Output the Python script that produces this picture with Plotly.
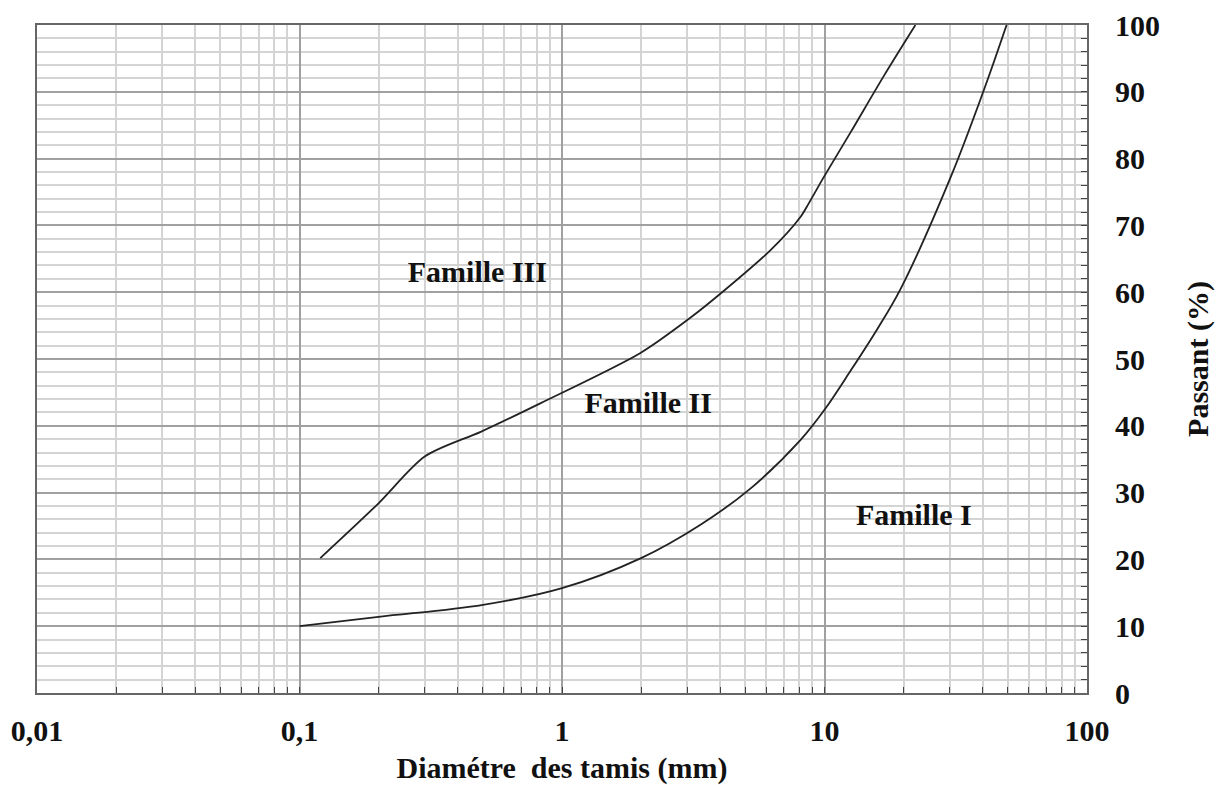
import plotly.graph_objects as go

# Data
lower_x = [0.1, 0.2, 0.5, 1.0, 2.0, 3.37, 5.22, 8.11, 10.0, 12.6, 15.9, 19.5, 30.3, 40.5, 49.4]
lower_y = [10.0, 11.4, 13.2, 15.7, 20.2, 25.2, 30.6, 37.9, 42.4, 48.3, 54.5, 60.5, 77.3, 90.3, 100.0]

upper_x = [0.12, 0.2, 0.3, 0.49, 0.83, 1.99, 3.09, 4.02, 6.23, 8.11, 8.71, 9.96, 12.6, 16.9, 22.2]
upper_y = [20.2, 28.4, 35.4, 39.1, 43.4, 50.9, 56.2, 59.8, 66.3, 71.3, 73.3, 77.3, 84.0, 92.5, 100.0]

label_text = ["Famille III", "Famille II", "Famille I"]
label_x = [0.476, 2.13, 21.9]
label_y = [62.7, 43.0, 26.2]

x_major = [0.01, 0.1, 1, 10, 100]
x_major_text = ["0,01", "0,1", "1", "10", "100"]
x_minor = [m * d for d in [0.01, 0.1, 1, 10] for m in range(2, 10)]
y_major = [0, 10, 20, 30, 40, 50, 60, 70, 80, 90, 100]

FONT = "Liberation Serif"
FS = 30

fig = go.Figure()
fig.add_trace(go.Scatter(x=lower_x, y=lower_y, mode="lines",
                         line=dict(color="#222222", width=1.8, shape="spline", smoothing=1.0),
                         showlegend=False, hoverinfo="skip"))
fig.add_trace(go.Scatter(x=upper_x, y=upper_y, mode="lines",
                         line=dict(color="#222222", width=1.8, shape="spline", smoothing=0.8),
                         showlegend=False, hoverinfo="skip"))
fig.add_trace(go.Scatter(x=label_x, y=label_y, mode="text", text=label_text,
                         textfont=dict(family=FONT, size=FS, color="#111111", weight="bold"),
                         showlegend=False, hoverinfo="skip"))

fig.update_layout(
    width=1220, height=785,
    margin=dict(l=37, r=133, t=25, b=92, autoexpand=False),
    plot_bgcolor="white", paper_bgcolor="white",
    font=dict(family=FONT, size=FS, color="#111111", weight="bold"),
    xaxis=dict(
        type="log", range=[-2, 2], automargin=False,
        tickvals=x_major, ticktext=x_major_text,
        ticks="inside", ticklen=6, tickcolor="#444444", tickwidth=1.2,
        showgrid=True, gridcolor="#a0a0a0", gridwidth=2,
        showline=True, linecolor="#666666", linewidth=2, mirror=True,
        ticklabelstandoff=10,
        minor=dict(tickvals=x_minor, ticks="inside", ticklen=6, tickcolor="#444444",
                   showgrid=True, gridcolor="#d4d4d4", gridwidth=2),
        title=dict(text="Diamétre\u00a0 des tamis (mm)", font=dict(family=FONT, size=FS, weight="bold"),
                   standoff=20),
        zeroline=False,
    ),
    yaxis=dict(
        range=[0, 100], side="right", automargin=False,
        tickvals=y_major,
        ticks="inside", ticklen=6, tickcolor="#444444", tickwidth=1.2,
        showgrid=True, gridcolor="#a0a0a0", gridwidth=2,
        showline=True, linecolor="#666666", linewidth=2, mirror=True,
        ticklabelstandoff=20,
        minor=dict(dtick=2, ticks="inside", ticklen=6, tickcolor="#444444",
                   showgrid=True, gridcolor="#d4d4d4", gridwidth=2),
        title=dict(text="Passant (%)", font=dict(family=FONT, size=FS, weight="bold"), standoff=28),
        zeroline=False,
    ),
)

fig.write_html("out.html")
